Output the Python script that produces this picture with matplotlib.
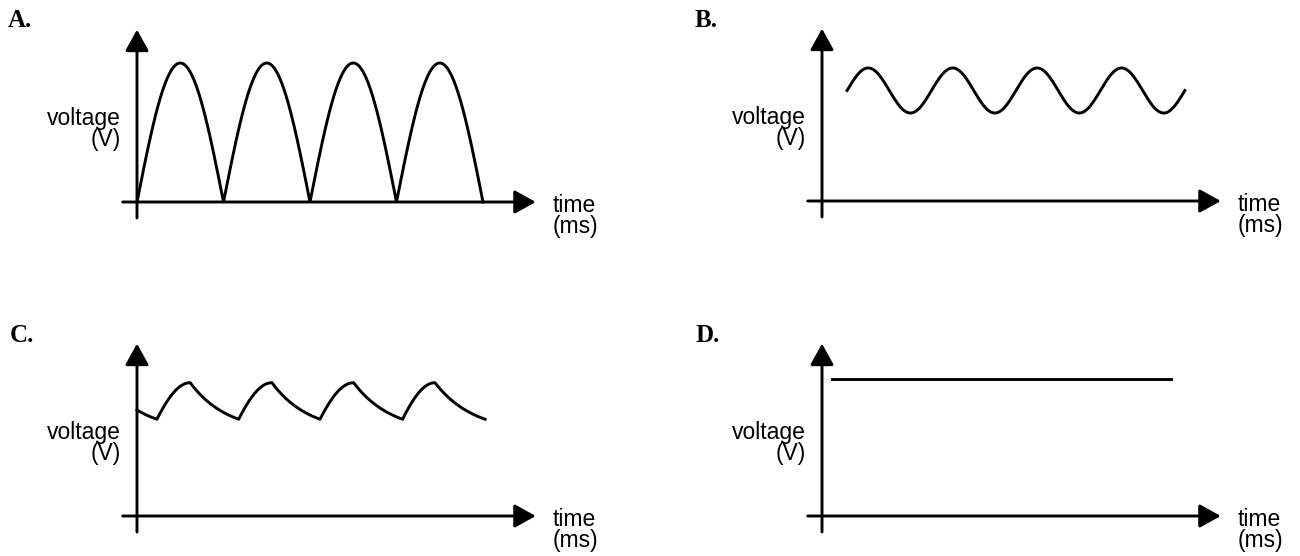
import numpy as np
import matplotlib
matplotlib.use("Agg")
import matplotlib.pyplot as plt
from matplotlib.patches import ArrowStyle

# ---- values (time in ms, voltage in V) ----
panel_labels = ["A.", "B.", "C.", "D."]
y_label = "voltage\n(V)"
x_label = "time\n(ms)"

# axis extents
t_axis_start = -0.33
t_axis_tip = 9.22
v_axis_bottom = -1.15
v_axis_tip = 12.4

# A: full-wave rectified
a_humps = 4
a_hump_ms = 2.0
a_peak = 10.0

# B: sine riding on an offset
b_start = 0.58
b_end = 8.39
b_cycles = 4
b_mid = 7.95
b_amp = 1.62

# C: rectified + capacitor ripple
c_start_v = 7.63
c_trough_t = [0.46, 2.35, 4.23, 6.14]
c_peak_t = [1.23, 3.12, 5.01, 6.89]
c_end_t = 8.05
c_peak_v = 9.59
c_trough_v = 6.96

# D: flat dc
d_start = 0.23
d_end = 8.07
d_level = 9.86

# ---- layout: pixel geometry ----
W, H = 1300, 556
PX_MS = 43.25
PX_V = 13.9
origins = [(137, 202), (822, 201), (137, 516), (822, 516)]
label_pos = [(8, 27), (695, 27), (10, 342), (695, 342)]
pad_l, pad_r, pad_b, pad_t = 130, 130, 45, 190

fig = plt.figure(figsize=(13, 5.56), dpi=100)
fig.patch.set_facecolor("white")

lw = 2.1
head = ArrowStyle("-|>", head_length=1.3, head_width=0.72)


def make_axes(ox, oy):
    left = (ox - pad_l) / W
    bottom = (H - (oy + pad_b)) / H
    ax = fig.add_axes([left, bottom, (pad_l + pad_r + 400) / W, (pad_b + pad_t) / H])
    ax.set_xlim(-pad_l / PX_MS, (400 + pad_r) / PX_MS)
    ax.set_ylim(-pad_b / PX_V, pad_t / PX_V)
    ax.axis("off")
    ax.patch.set_alpha(0)
    # axes with arrows
    ax.annotate("", xy=(t_axis_tip, 0), xytext=(t_axis_start, 0),
                arrowprops=dict(arrowstyle=head, lw=lw, color="black",
                                shrinkA=0, shrinkB=0, mutation_scale=10))
    ax.annotate("", xy=(0, v_axis_tip), xytext=(0, v_axis_bottom),
                arrowprops=dict(arrowstyle=head, lw=lw, color="black",
                                shrinkA=0, shrinkB=0, mutation_scale=10))
    ax.text(-16 / PX_MS, 73 / PX_V, y_label, ha="right", va="center",
            multialignment="right", fontsize=16.5, family="Liberation Sans",
            linespacing=0.92)
    ax.text(t_axis_tip + 17 / PX_MS, -14 / PX_V, x_label, ha="left", va="center",
            multialignment="left", fontsize=16.5, family="Liberation Sans",
            linespacing=0.92)
    return ax


axes = [make_axes(ox, oy) for ox, oy in origins]

for (lx, ly), lab in zip(label_pos, panel_labels):
    fig.text(lx / W, 1 - ly / H, lab, ha="left", va="baseline", fontsize=18,
             family="Liberation Serif", fontweight="bold")

# A
t = np.linspace(0, a_humps * a_hump_ms, 800)
axes[0].plot(t, a_peak * np.abs(np.sin(np.pi * t / a_hump_ms)), color="black", lw=lw)

# B
t = np.linspace(b_start, b_end, 600)
per = (b_end - b_start) / b_cycles
axes[1].plot(t, b_mid + b_amp * np.sin(2 * np.pi * (t - b_start) / per), color="black", lw=lw)


# C: rise segments follow a sine shoulder, decays are exponential
def decay(t0, t1, v0, v1, k=1.3, n=60):
    s = np.linspace(0, 1, n)
    f = (np.exp(-k * s) - np.exp(-k)) / (1 - np.exp(-k))
    return t0 + (t1 - t0) * s, v1 + (v0 - v1) * f


def rise(t0, t1, v0, v1, a=0.45, n=60):
    s = np.linspace(0, 1, n)
    f = (np.sin(a + (np.pi / 2 - a) * s) - np.sin(a)) / (1 - np.sin(a))
    return t0 + (t1 - t0) * s, v0 + (v1 - v0) * f


ct, cv = [], []
seg = decay(0, c_trough_t[0], c_start_v, c_trough_v, k=0.6)
ct.append(seg[0]); cv.append(seg[1])
nxt = c_trough_t[1:] + [c_end_t]
for tr, pk, tn in zip(c_trough_t, c_peak_t, nxt):
    seg = rise(tr, pk, c_trough_v, c_peak_v)
    ct.append(seg[0]); cv.append(seg[1])
    seg = decay(pk, tn, c_peak_v, c_trough_v)
    ct.append(seg[0]); cv.append(seg[1])
axes[2].plot(np.concatenate(ct), np.concatenate(cv), color="black", lw=lw)

# D
axes[3].plot([d_start, d_end], [d_level, d_level], color="black", lw=lw)

fig.savefig("out.png", dpi=100, facecolor="white")
